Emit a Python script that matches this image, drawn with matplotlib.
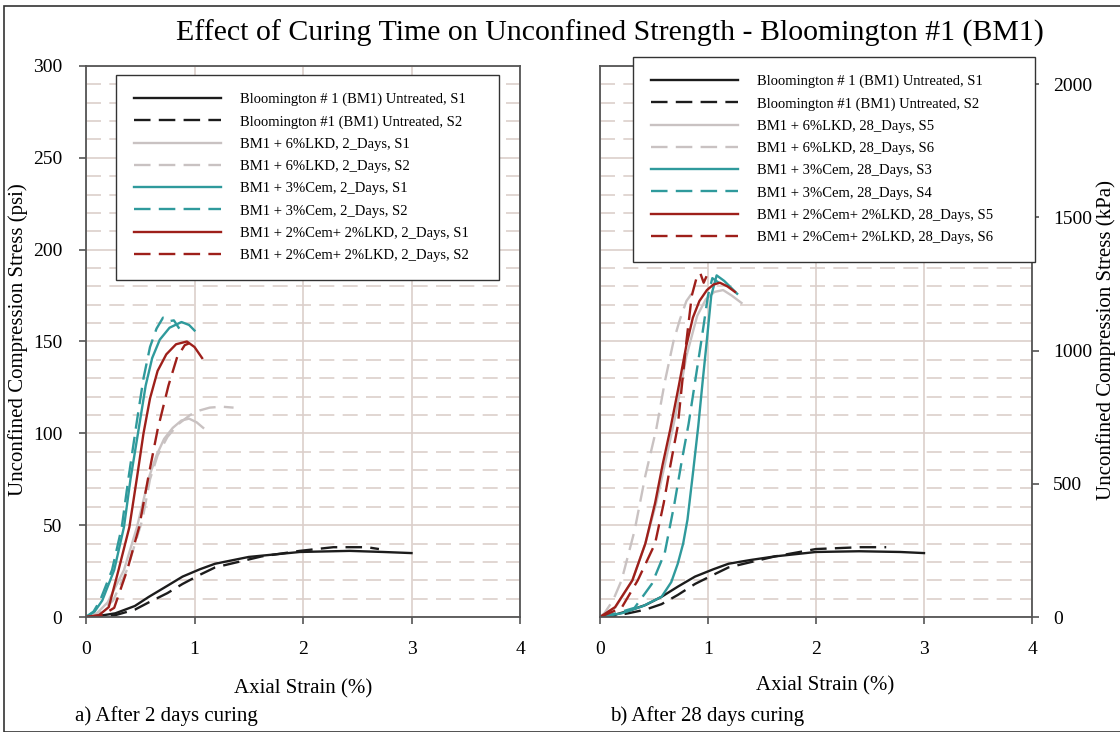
import numpy as np
import matplotlib
matplotlib.use('Agg')
import matplotlib.pyplot as plt
from matplotlib.patches import Rectangle

plt.rcParams['font.family'] = ['Liberation Serif', 'DejaVu Serif']

### Data (axial strain %, stress psi)

# a) 2 days curing
d2_unt_s1_x = [0, 0.10, 0.27, 0.45, 0.58, 0.75, 0.89, 1.05, 1.19, 1.50, 1.97, 2.43, 2.74, 3.0]
d2_unt_s1_y = [0, 0.4, 2, 6, 11, 17, 22, 26, 29, 32.7, 35.4, 36, 35.4, 34.8]
d2_unt_s2_x = [0, 0.10, 0.27, 0.45, 0.58, 0.75, 0.89, 1.05, 1.19, 1.62, 1.97, 2.28, 2.59, 2.70]
d2_unt_s2_y = [0, 0.2, 1, 4, 8, 13, 18, 23, 27, 33, 36, 38, 38, 37]
d2_lkd_s1_x = [0, 0.10, 0.20, 0.35, 0.47, 0.58, 0.65, 0.72, 0.80, 0.88, 0.95, 1.02, 1.08]
d2_lkd_s1_y = [0, 2, 8, 25.6, 49, 76, 88, 97, 103, 107, 108, 106, 103]
d2_lkd_s2_x = [0, 0.12, 0.25, 0.38, 0.52, 0.59, 0.66, 0.75, 0.85, 0.96, 1.05, 1.14, 1.25, 1.36]
d2_lkd_s2_y = [0, 2, 9, 26, 53, 75, 88, 98, 105, 110, 112.5, 114, 114.5, 114]
d2_cem_s1_x = [0, 0.08, 0.15, 0.26, 0.35, 0.41, 0.49, 0.55, 0.61, 0.68, 0.77, 0.88, 0.95, 1.00]
d2_cem_s1_y = [0, 3, 9, 25.6, 49, 75, 104, 126, 141, 151, 157.5, 160.6, 159, 156]
d2_cem_s2_x = [0, 0.07, 0.13, 0.24, 0.33, 0.39, 0.47, 0.53, 0.59, 0.65, 0.71, 0.76, 0.81, 0.86]
d2_cem_s2_y = [0, 3, 9, 25.6, 49, 75, 107, 130, 147, 157, 163, 161, 161.5, 157]
d2_mix_s1_x = [0, 0.12, 0.21, 0.30, 0.40, 0.47, 0.53, 0.59, 0.66, 0.74, 0.83, 0.93, 1.00, 1.07]
d2_mix_s1_y = [0, 1, 5.4, 25.6, 49, 76, 100, 119, 134, 143, 148.5, 150, 147, 141]
d2_mix_s2_x = [0, 0.15, 0.26, 0.38, 0.49, 0.58, 0.66, 0.76, 0.84, 0.91, 0.95]
d2_mix_s2_y = [0, 1, 5, 25.6, 49, 78, 102, 126, 141.5, 148, 149]

# b) 28 days curing
d28_unt_s1_x = [0, 0.10, 0.26, 0.42, 0.57, 0.72, 0.88, 1.05, 1.19, 1.39, 1.62, 2.0, 2.4, 2.78, 3.0]
d28_unt_s1_y = [0, 0.6, 3.3, 6.5, 11, 16.5, 22, 26, 29, 31, 33, 35.4, 35.8, 35.4, 34.8]
d28_unt_s2_x = [0, 0.10, 0.26, 0.42, 0.57, 0.72, 0.88, 1.05, 1.19, 1.62, 2.0, 2.41, 2.65]
d28_unt_s2_y = [0, 0.3, 2, 4, 7, 12, 18, 23, 27, 33, 37, 38, 38]
d28_lkd_s5_x = [0, 0.14, 0.30, 0.42, 0.52, 0.60, 0.70, 0.80, 0.90, 0.98, 1.06, 1.14, 1.22, 1.31]
d28_lkd_s5_y = [0, 5, 20, 40, 62, 83, 110, 142, 164, 173, 177, 178, 175, 171]
d28_lkd_s6_x = [0, 0.04, 0.12, 0.20, 0.32, 0.42, 0.52, 0.60, 0.68, 0.74, 0.80, 0.86]
d28_lkd_s6_y = [0, 2, 9, 20, 47, 77, 102, 128, 150, 162, 172, 177]
d28_cem_s3_x = [0, 0.20, 0.40, 0.57, 0.66, 0.72, 0.77, 0.81, 0.86, 0.91, 0.95, 0.99, 1.03, 1.08, 1.15, 1.27]
d28_cem_s3_y = [0, 2, 6, 11, 19, 29, 40, 53, 78, 104, 128, 151, 175, 186, 183, 176]
d28_cem_s4_x = [0, 0.15, 0.32, 0.48, 0.60, 0.69, 0.76, 0.82, 0.88, 0.94, 1.00, 1.04, 1.10]
d28_cem_s4_y = [0, 2, 5, 18, 35, 62, 86, 105, 128, 151, 175, 184.5, 182]
d28_mix_s5_x = [0, 0.14, 0.30, 0.42, 0.51, 0.58, 0.65, 0.73, 0.80, 0.86, 0.92, 0.99, 1.05, 1.11, 1.18, 1.25]
d28_mix_s5_y = [0, 5.4, 20, 40, 62, 83, 102, 126, 148, 163, 172, 178, 181, 182, 180, 177]
d28_mix_s6_x = [0, 0.20, 0.35, 0.51, 0.59, 0.65, 0.72, 0.80, 0.85, 0.90, 0.93, 0.96, 0.99]
d28_mix_s6_y = [0, 5, 20, 40, 62, 82, 104, 150, 175, 186, 187, 182, 186]

labels_2d = ['Bloomington # 1 (BM1) Untreated, S1', 'Bloomington #1 (BM1) Untreated, S2',
             'BM1 + 6%LKD, 2_Days, S1', 'BM1 + 6%LKD, 2_Days, S2',
             'BM1 + 3%Cem, 2_Days, S1', 'BM1 + 3%Cem, 2_Days, S2',
             'BM1 + 2%Cem+ 2%LKD, 2_Days, S1', 'BM1 + 2%Cem+ 2%LKD, 2_Days, S2']
labels_28d = ['Bloomington # 1 (BM1) Untreated, S1', 'Bloomington #1 (BM1) Untreated, S2',
              'BM1 + 6%LKD, 28_Days, S5', 'BM1 + 6%LKD, 28_Days, S6',
              'BM1 + 3%Cem, 28_Days, S3', 'BM1 + 3%Cem, 28_Days, S4',
              'BM1 + 2%Cem+ 2%LKD, 28_Days, S5', 'BM1 + 2%Cem+ 2%LKD, 28_Days, S6']

### Styles
c_black = '#1c1c1c'
c_gray = '#c9c2c2'
c_teal = '#2f9a9c'
c_red = '#9e1f1a'
dash = (0, (7, 3.5))
grid_c = '#dccfcb'

fig = plt.figure(figsize=(11.2, 7.32), dpi=100)
W, H = 1120., 732.

def axes_px(x0, x1, ytop, ybot):
    return fig.add_axes([x0 / W, 1 - ybot / H, (x1 - x0) / W, (ybot - ytop) / H])

axL = axes_px(86, 520, 66, 617)
axR = axes_px(600, 1032, 66, 617)

def style(ax):
    ax.set_xlim(0, 4)
    ax.set_ylim(0, 300)
    ax.set_xticks([0, 1, 2, 3, 4])
    ax.set_yticks(np.arange(0, 301, 50))
    ax.set_yticks(np.arange(0, 301, 10), minor=True)
    ax.grid(True, which='major', color=grid_c, lw=1.2, ls='-')
    ax.grid(True, which='minor', axis='y', color=grid_c, lw=1.2, ls=(0, (9, 5)))
    ax.set_axisbelow(True)
    for s in ax.spines.values():
        s.set_color('#555555')
        s.set_linewidth(1.3)
    ax.tick_params(which='major', direction='out', length=5, width=1.2, color='#555555',
                   labelsize=14, pad=12)
    ax.tick_params(which='minor', length=0)

style(axL)
style(axR)
axR.tick_params(axis='y', labelleft=False, length=0)

def draw(ax, series, labels):
    styles = [(c_black, '-'), (c_black, dash), (c_gray, '-'), (c_gray, dash),
              (c_teal, '-'), (c_teal, dash), (c_red, '-'), (c_red, dash)]
    for (x, y), (c, ls), lab in zip(series, styles, labels):
        ax.plot(x, y, color=c, ls=ls, lw=1.7, label=lab)

draw(axL, [(d2_unt_s1_x, d2_unt_s1_y), (d2_unt_s2_x, d2_unt_s2_y),
           (d2_lkd_s1_x, d2_lkd_s1_y), (d2_lkd_s2_x, d2_lkd_s2_y),
           (d2_cem_s1_x, d2_cem_s1_y), (d2_cem_s2_x, d2_cem_s2_y),
           (d2_mix_s1_x, d2_mix_s1_y), (d2_mix_s2_x, d2_mix_s2_y)], labels_2d)
draw(axR, [(d28_unt_s1_x, d28_unt_s1_y), (d28_unt_s2_x, d28_unt_s2_y),
           (d28_lkd_s5_x, d28_lkd_s5_y), (d28_lkd_s6_x, d28_lkd_s6_y),
           (d28_cem_s3_x, d28_cem_s3_y), (d28_cem_s4_x, d28_cem_s4_y),
           (d28_mix_s5_x, d28_mix_s5_y), (d28_mix_s6_x, d28_mix_s6_y)], labels_28d)

# kPa axis on the right panel
axK = axR.twinx()
axK.set_ylim(0, 300 * 6.89476)
axK.set_yticks([0, 500, 1000, 1500, 2000])
axK.tick_params(direction='out', length=5, width=1.2, color='#555555', labelsize=14, pad=10)
for s in axK.spines.values():
    s.set_visible(False)

def legend(ax, handles, labels, x0, x1, ytop, ybot):
    leg = ax.legend(handles, labels, loc='upper left',
                    bbox_to_anchor=(x0 / W, 1 - ybot / H, (x1 - x0) / W, (ybot - ytop) / H),
                    bbox_transform=fig.transFigure, mode='expand', borderaxespad=0,
                    fontsize=10.5, handlelength=6.0, handletextpad=1.3, labelspacing=0.62,
                    borderpad=1.2, fancybox=False, framealpha=1, edgecolor='#333333')
    leg.get_frame().set_linewidth(1.0)
    leg.set_zorder(10)
    return leg

hL, lL = axL.get_legend_handles_labels()
hR, lR = axR.get_legend_handles_labels()
legend(axL, hL, lL, 116, 499, 75, 268)
legend(axK, hR, lR, 633, 1035, 57, 259)

fig.text(610 / W, 1 - 33 / H, 'Effect of Curing Time on Unconfined Strength - Bloomington #1 (BM1)',
         ha='center', va='center', fontsize=21.5)
fig.text(18 / W, 1 - 340 / H, 'Unconfined Compression Stress (psi)', rotation=90,
         ha='center', va='center', fontsize=15)
fig.text(1106 / W, 1 - 340 / H, 'Unconfined Compression Stress (kPa)', rotation=90,
         ha='center', va='center', fontsize=15)
fig.text(303 / W, 1 - 689 / H, 'Axial Strain (%)', ha='center', va='center', fontsize=15)
fig.text(825 / W, 1 - 686 / H, 'Axial Strain (%)', ha='center', va='center', fontsize=15)
fig.text(75 / W, 1 - 716 / H, 'a) After 2 days curing', ha='left', va='center', fontsize=15)
fig.text(610 / W, 1 - 716 / H, 'b) After 28 days curing', ha='left', va='center', fontsize=15)

fig.patches.append(Rectangle((4 / W, 0), 1.1, 1 - 6 / H, transform=fig.transFigure,
                             fill=False, edgecolor='#333333', lw=1.2))

fig.savefig('out.png', dpi=100)
